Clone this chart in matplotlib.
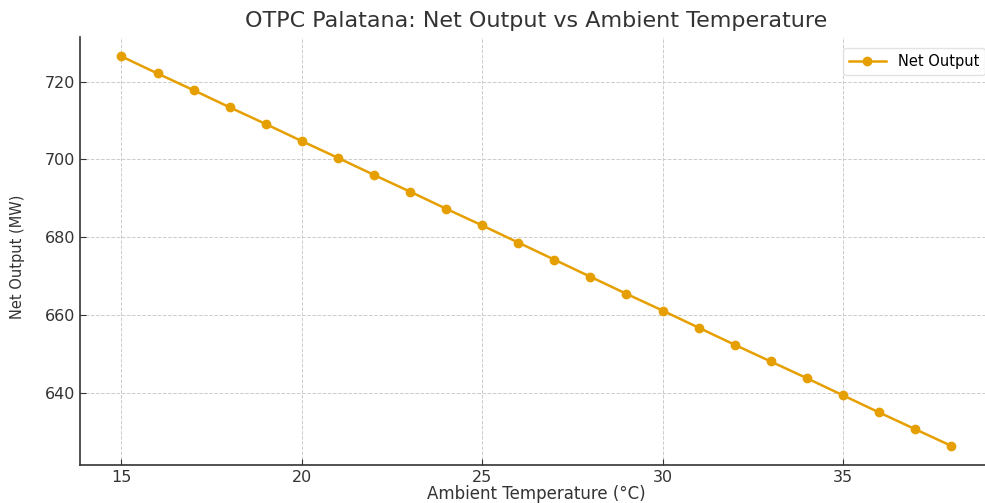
import matplotlib
matplotlib.use("Agg")
import matplotlib.pyplot as plt

temperature_c = [15, 16, 17, 18, 19, 20, 21, 22, 23, 24, 25, 26,
                 27, 28, 29, 30, 31, 32, 33, 34, 35, 36, 37, 38]
net_output_mw = [726.5, 722.1, 717.8, 713.4, 709.1, 704.7, 700.4, 696.0,
                 691.7, 687.3, 683.0, 678.6, 674.2, 669.8, 665.4, 661.1,
                 656.7, 652.3, 648.0, 643.7, 639.3, 634.9, 630.6, 626.3]
x_ticks = [15, 20, 25, 30, 35]
y_ticks = [640, 660, 680, 700, 720]

title_text = "OTPC Palatana: Net Output vs Ambient Temperature"
x_label = "Ambient Temperature (°C)"
y_label = "Net Output (MW)"
series_label = "Net Output"

fig = plt.figure(figsize=(9.85, 5.03), dpi=100)
ax = fig.add_axes([0.0812, 0.075, 0.9265, 0.8516])

ax.plot(temperature_c, net_output_mw, color="#E69F00", linewidth=1.8,
        marker="o", markersize=6, label=series_label)

ax.set_xticks(x_ticks)
ax.set_yticks(y_ticks)
ax.tick_params(direction="in", labelsize=11.5, colors="#333333", length=4)
ax.grid(True, linestyle="--", color="#cccccc", linewidth=0.7)
ax.set_axisbelow(True)

for side in ("top", "right"):
    ax.spines[side].set_visible(False)
for side in ("left", "bottom"):
    ax.spines[side].set_color("#333333")
    ax.spines[side].set_linewidth(1.2)

ax.set_title(title_text, fontsize=16, color="#333333", pad=7)
ax.set_xlabel(x_label, fontsize=12, color="#333333")
ax.xaxis.set_label_coords(0.5, -0.047)
ax.set_ylabel(y_label, fontsize=10.5, color="#333333")
ax.yaxis.set_label_coords(-0.060, 0.486)

leg = ax.legend(loc="upper right", fontsize=10.5, frameon=True,
                handlelength=2.6, bbox_to_anchor=(1.0, 0.99))
leg.get_frame().set_edgecolor("#dddddd")

fig.savefig("out.png", dpi=100)
